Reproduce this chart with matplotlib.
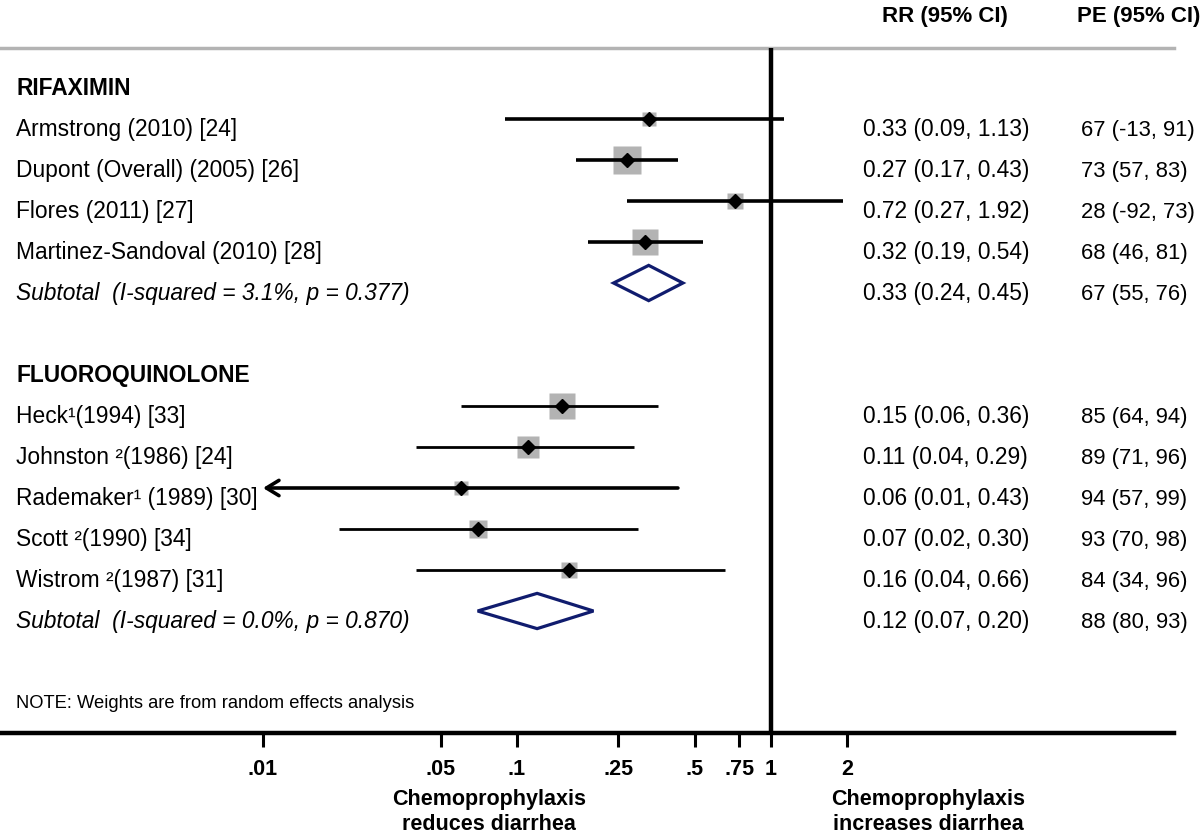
import numpy as np
import matplotlib.pyplot as plt
import matplotlib.transforms as mtransforms
from matplotlib.ticker import NullLocator

plt.rcParams['font.family'] = ['Liberation Sans', 'DejaVu Sans']

# --- data ---
rif_labels = ['Armstrong (2010) [24]', 'Dupont (Overall) (2005) [26]',
              'Flores (2011) [27]', 'Martinez-Sandoval (2010) [28]']
rif_rr = [0.33, 0.27, 0.72, 0.32]
rif_lo = [0.09, 0.17, 0.27, 0.19]
rif_hi = [1.13, 0.43, 1.92, 0.54]
rif_weight = [9.0, 41.6, 13.6, 35.9]
rif_pe = ['67 (-13, 91)', '73 (57, 83)', '28 (-92, 73)', '68 (46, 81)']
rif_sub = [0.33, 0.24, 0.45]
rif_sub_pe = '67 (55, 76)'
rif_sub_label = 'Subtotal  (I-squared = 3.1%, p = 0.377)'

fq_labels = ['Heck\u00b9(1994) [33]', 'Johnston \u00b2(1986) [24]',
             'Rademaker\u00b9 (1989) [30]', 'Scott \u00b2(1990) [34]',
             'Wistrom \u00b2(1987) [31]']
fq_rr = [0.15, 0.11, 0.06, 0.07, 0.16]
fq_lo = [0.06, 0.04, 0.01, 0.02, 0.04]
fq_hi = [0.36, 0.29, 0.43, 0.30, 0.66]
fq_weight = [34.0, 25.7, 9.3, 16.5, 14.5]
fq_pe = ['85 (64, 94)', '89 (71, 96)', '94 (57, 99)', '93 (70, 98)', '84 (34, 96)']
fq_sub = [0.12, 0.07, 0.20]
fq_sub_pe = '88 (80, 93)'
fq_sub_label = 'Subtotal  (I-squared = 0.0%, p = 0.870)'

tick_vals = [0.01, 0.05, 0.1, 0.25, 0.5, 0.75, 1, 2]
tick_labels = ['.01', '.05', '.1', '.25', '.5', '.75', '1', '2']

groups = [
    ('RIFAXIMIN', rif_labels, rif_rr, rif_lo, rif_hi, rif_weight, rif_pe,
     rif_sub, rif_sub_pe, rif_sub_label),
    ('FLUOROQUINOLONE', fq_labels, fq_rr, fq_lo, fq_hi, fq_weight, fq_pe,
     fq_sub, fq_sub_pe, fq_sub_label),
]
group_lw = [2.6, 2.0]

# --- layout (pixels of a 1200x833 canvas) ---
W, H = 1200, 833
row_px, row0_px = 41.0, 78.0
top_px, axis_px, right_px = 48.0, 733.0, 1174.0
one_px, decade_px = 771.0, 254.0
base_off = 17.0 / row_px
fs = 16.4
fs_pe = 15.8
navy = '#101c6e'
grey = '#b3b3b3'

fig = plt.figure(figsize=(12, 8.33), dpi=100)
ax = fig.add_axes([0, (H - axis_px) / H, right_px / W, (axis_px - top_px) / H])
ax.set_xscale('log')
ax.set_xlim(10 ** (-one_px / decade_px), 10 ** ((right_px - one_px) / decade_px))
ax.set_ylim((axis_px - row0_px) / row_px, (top_px - row0_px) / row_px)

trans = mtransforms.blended_transform_factory(fig.transFigure, ax.transData)
x_lab, x_rr, x_pe = 16 / W, 863 / W, 1081 / W

row = 0
for g, (title, labels, rr, lo, hi, wt, pe, sub, sub_pe, sub_label) in enumerate(groups):
    lw = group_lw[g]
    ax.text(x_lab, row + base_off, title, transform=trans, fontsize=fs,
            fontweight='bold', va='baseline')
    row += 1
    for i in range(len(labels)):
        side = 4.4 * np.sqrt(wt[i]) * 0.72
        ax.plot(rr[i], row, marker='s', ms=side, color=grey, mec='none', zorder=2)
        if lo[i] <= tick_vals[0]:
            # CI runs off the scale: draw it as an arrow
            ax.annotate('', xy=(lo[i], row), xytext=(hi[i], row),
                        arrowprops=dict(arrowstyle='->,head_length=0.9,head_width=0.55',
                                        lw=2.6, color='black', shrinkA=0, shrinkB=0),
                        zorder=3)
        else:
            ax.plot([lo[i], hi[i]], [row, row], color='black', lw=lw,
                    solid_capstyle='butt', zorder=3)
        ax.plot(rr[i], row, marker='D', ms=7, color='black', zorder=4)
        ax.text(x_lab, row + base_off, labels[i], transform=trans, fontsize=fs,
                va='baseline')
        ax.text(x_rr, row + base_off, f'{rr[i]:.2f} ({lo[i]:.2f}, {hi[i]:.2f})',
                transform=trans, fontsize=fs, va='baseline')
        ax.text(x_pe, row + base_off, pe[i], transform=trans, fontsize=fs_pe,
                va='baseline')
        row += 1
    est, slo, shi = sub
    ax.fill([slo, est, shi, est], [row, row - 0.43, row, row + 0.43],
            facecolor='white', edgecolor=navy, lw=2.3, joinstyle='miter', zorder=3)
    ax.text(x_lab, row + base_off, sub_label, transform=trans, fontsize=fs,
            fontstyle='italic', va='baseline')
    ax.text(x_rr, row + base_off, f'{est:.2f} ({slo:.2f}, {shi:.2f})',
            transform=trans, fontsize=fs, va='baseline')
    ax.text(x_pe, row + base_off, sub_pe, transform=trans, fontsize=fs_pe,
            va='baseline')
    row += 2

ax.axvline(1, color='black', lw=3.2, zorder=5)

for s in ['left', 'right']:
    ax.spines[s].set_visible(False)
ax.spines['top'].set_color(grey)
ax.spines['top'].set_linewidth(2.5)
ax.spines['bottom'].set_color('black')
ax.spines['bottom'].set_linewidth(3.2)

ax.set_xticks(tick_vals)
ax.set_xticklabels(tick_labels, fontweight='bold', fontsize=15.5)
ax.xaxis.set_minor_locator(NullLocator())
ax.tick_params(axis='x', direction='out', length=10, width=2.2, pad=9)
ax.set_yticks([])

# column headers
fig.text(882 / W, 1 - 22 / H, 'RR (95% CI)', fontsize=16, fontweight='bold', va='baseline')
fig.text(1077 / W, 1 - 22 / H, 'PE (95% CI)', fontsize=16, fontweight='bold', va='baseline')

fig.text(16 / W, 1 - 708 / H, 'NOTE: Weights are from random effects analysis',
         fontsize=13.2, va='baseline')

fig.text(489 / W, 1 - 805 / H, 'Chemoprophylaxis', fontsize=15.5, fontweight='bold',
         ha='center', va='baseline')
fig.text(489 / W, 1 - 830 / H, 'reduces diarrhea', fontsize=15.5, fontweight='bold',
         ha='center', va='baseline')
fig.text(928 / W, 1 - 805 / H, 'Chemoprophylaxis', fontsize=15.5, fontweight='bold',
         ha='center', va='baseline')
fig.text(928 / W, 1 - 830 / H, 'increases diarrhea', fontsize=15.5, fontweight='bold',
         ha='center', va='baseline')

fig.savefig('out.png', dpi=100)
